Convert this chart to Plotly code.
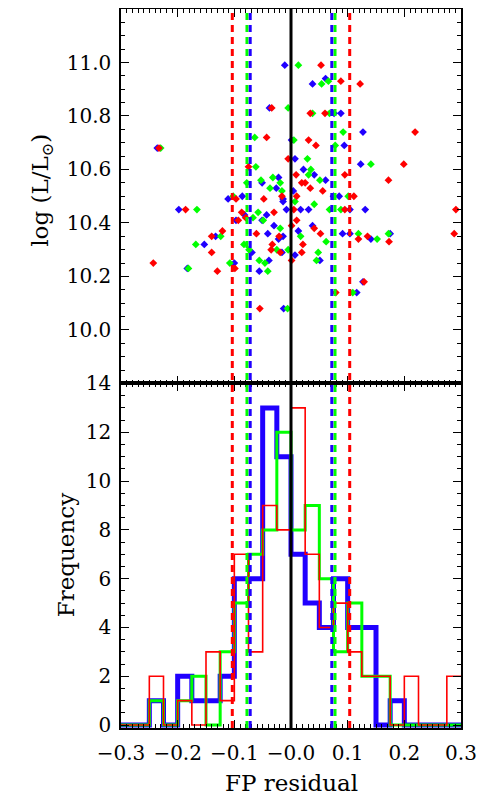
import plotly.graph_objects as go

# --- scatter: FP residual vs log luminosity, three samples ---
blue_x = [-0.011, -0.038, -0.236, -0.051, -0.022, -0.026, -0.086, -0.111, -0.014, 0.038,
          0.061, 0.076, 0.088, 0.127, 0.001, 0.094, 0.007, 0.123, 0.022, 0.041,
          0.061, 0.075, 0.085, -0.198, -0.082, -0.097, -0.051, -0.043, -0.133, -0.153,
          -0.183, -0.100, -0.069, -0.041, -0.039, -0.056, -0.030, -0.022, -0.013, 0.004,
          -0.014, 0.017, 0.031, 0.104, 0.131, 0.038, 0.013, 0.091, 0.104, 0.141,
          0.175, -0.014, 0.007, 0.051, 0.127, 0.116, -0.008, -0.016]
blue_y = [10.99, 10.83, 10.68, 10.55, 10.57, 10.53, 10.50, 10.49, 10.49, 10.92,
          10.94, 10.81, 10.81, 10.74, 10.71, 10.69, 10.64, 10.62, 10.60, 10.58,
          10.56, 10.50, 10.50, 10.45, 10.43, 10.41, 10.41, 10.43, 10.35, 10.32,
          10.23, 10.25, 10.29, 10.36, 10.26, 10.22, 10.39, 10.34, 10.08, 10.52,
          10.48, 10.45, 10.45, 10.45, 10.45, 10.39, 10.37, 10.36, 10.36, 10.34,
          10.36, 10.35, 10.28, 10.26, 10.18, 10.14, 10.45, 10.29]

green_x = [0.013, -0.005, -0.230, -0.064, -0.062, -0.053, -0.032, -0.037, -0.019, -0.016,
           -0.078, -0.102, 0.054, 0.066, 0.038, 0.068, 0.092, 0.005, 0.078, 0.029,
           0.141, 0.035, 0.031, 0.051, 0.101, -0.166, -0.067, -0.058, -0.049, -0.124,
           -0.168, -0.181, -0.108, -0.083, -0.074, -0.056, -0.046, -0.041, -0.019, -0.006,
           0.007, 0.041, 0.068, 0.088, 0.017, 0.119, 0.152, 0.172, 0.062, -0.005,
           0.048, 0.045, 0.109, -0.025]
green_y = [10.99, 10.83, 10.68, 10.72, 10.61, 10.56, 10.57, 10.53, 10.55, 10.52,
           10.55, 10.50, 10.92, 10.93, 10.81, 10.81, 10.74, 10.71, 10.69, 10.64,
           10.62, 10.60, 10.58, 10.56, 10.50, 10.45, 10.42, 10.44, 10.41, 10.35,
           10.32, 10.23, 10.25, 10.32, 10.30, 10.26, 10.25, 10.22, 10.38, 10.08,
           10.48, 10.47, 10.45, 10.45, 10.35, 10.36, 10.34, 10.36, 10.33, 10.30,
           10.29, 10.26, 10.14, 10.30]

red_x = [-0.034, -0.233, -0.043, -0.005, -0.075, -0.016, -0.097, -0.048, 0.053, 0.088,
         0.122, 0.034, 0.060, 0.219, 0.031, 0.044, 0.199, 0.009, 0.019, 0.025,
         0.095, 0.172, 0.034, 0.056, 0.111, 0.010, -0.186, -0.087, -0.080, -0.093,
         -0.030, -0.140, -0.121, -0.140, -0.243, -0.130, -0.099, -0.061, -0.021, -0.033,
         -0.035, -0.019, -0.055, 0.005, 0.095, 0.291, 0.010, 0.001, 0.041, 0.052,
         0.135, 0.119, 0.173, 0.288, 0.021, 0.019, 0.001, 0.129, 0.079]
red_y = [10.83, 10.68, 10.72, 10.64, 10.61, 10.50, 10.49, 10.49, 10.99, 10.93,
         10.92, 10.81, 10.81, 10.74, 10.71, 10.69, 10.62, 10.58, 10.55, 10.55,
         10.58, 10.56, 10.53, 10.52, 10.50, 10.50, 10.45, 10.44, 10.42, 10.41,
         10.44, 10.35, 10.37, 10.29, 10.25, 10.22, 10.23, 10.36, 10.35, 10.32,
         10.30, 10.29, 10.08, 10.45, 10.45, 10.45, 10.41, 10.39, 10.38, 10.36,
         10.35, 10.34, 10.33, 10.36, 10.32, 10.29, 10.26, 10.18, 10.14]

# --- histograms of FP residual (bins of 0.025 from -0.3 to 0.3) ---
bin_start = -0.3
bin_width = 0.025
blue_counts = [0, 0, 1, 0, 2, 1, 1, 2, 6, 6, 13, 11, 7, 5, 4, 6, 4, 4, 0, 1, 0, 0, 0, 0]
green_counts = [0, 0, 1, 0, 1, 2, 0, 3, 5, 7, 8, 12, 8, 9, 6, 3, 5, 2, 2, 0, 0, 0, 0, 0]
red_counts = [0, 0, 2, 0, 1, 0, 3, 1, 7, 3, 9, 8, 13, 7, 4, 5, 3, 2, 2, 0, 2, 0, 0, 2]

# --- vertical reference lines (scatter cuts) ---
zero_line = 0.0
blue_cut = 0.072
green_cut = 0.0777
red_cut = 0.1036

x_ticks = [-0.3, -0.2, -0.1, 0.0, 0.1, 0.2, 0.3]
x_ticktext = ["\u22120.3", "\u22120.2", "\u22120.1", "\u22120.0", "0.1", "0.2", "0.3"]
lum_ticks = [10.0, 10.2, 10.4, 10.6, 10.8, 11.0]
freq_ticks = [0, 2, 4, 6, 8, 10, 12, 14]

BLUE = "#2000ff"
GREEN = "#00ff00"
RED = "#ff0000"
FONT = "DejaVu Serif"

fig = go.Figure()

for xs, ys, col in [(blue_x, blue_y, BLUE), (green_x, green_y, GREEN), (red_x, red_y, RED)]:
    fig.add_trace(go.Scatter(x=xs, y=ys, mode="markers", xaxis="x", yaxis="y",
                             marker=dict(symbol="diamond", size=6, color=col, line_width=0),
                             showlegend=False))


def step_xy(counts):
    edges = [bin_start + i * bin_width for i in range(len(counts) + 1)]
    return edges, list(counts) + [counts[-1]]


for counts, col, w in [(blue_counts, BLUE, 5), (green_counts, GREEN, 3), (red_counts, RED, 1.6)]:
    ex, ey = step_xy(counts)
    fig.add_trace(go.Scatter(x=ex, y=ey, mode="lines", line_shape="hv", xaxis="x2", yaxis="y2",
                             line=dict(color=col, width=w), showlegend=False))

shapes = []
for cut, col in [(red_cut, RED), (green_cut, GREEN), (blue_cut, BLUE)]:
    for xv in (-cut, cut):
        shapes.append(dict(type="line", xref="x", yref="paper", x0=xv, x1=xv, y0=0, y1=1,
                           line=dict(color=col, width=3, dash="7px,5px")))
shapes.append(dict(type="line", xref="x", yref="paper", x0=zero_line, x1=zero_line, y0=0, y1=1,
                   line=dict(color="black", width=3)))

# page body adds an 8px offset, so the figure is sized to end at the window edge
split = 345 / 720
axis_common = dict(showline=True, linecolor="black", linewidth=1.5, mirror="allticks",
                   ticks="inside", tickcolor="black", showgrid=False, zeroline=False,
                   automargin=False,
                   tickfont=dict(family=FONT, size=20, color="black"))
title_font = dict(family=FONT, size=23, color="black")

fig.update_layout(
    width=477, height=800,
    margin=dict(l=113, r=24, t=1, b=80, autoexpand=False),
    paper_bgcolor="white", plot_bgcolor="white",
    shapes=shapes,
    xaxis=dict(axis_common, domain=[0, 1], anchor="y", range=[-0.3, 0.3],
               tickvals=x_ticks, ticktext=x_ticktext, showticklabels=False, ticklen=8,
               minor=dict(ticks="inside", dtick=0.01, ticklen=4, tickcolor="black")),
    yaxis=dict(axis_common, domain=[split, 1], anchor="x", range=[9.8, 11.2],
               tickvals=lum_ticks, tickformat=".1f", ticklen=8, ticklabelstandoff=4,
               minor=dict(ticks="inside", dtick=0.05, tick0=10.0, ticklen=4, tickcolor="black")),
    xaxis2=dict(axis_common, domain=[0, 1], anchor="y2", range=[-0.3, 0.3],
                tickvals=x_ticks, ticktext=x_ticktext, ticklen=8, ticklabelstandoff=6,
                minor=dict(ticks="inside", dtick=0.01, ticklen=4, tickcolor="black")),
    yaxis2=dict(axis_common, domain=[0, split], anchor="x2", range=[-0.12, 14],
                tickvals=freq_ticks, ticklen=8, ticklabelstandoff=4,
                minor=dict(ticks="inside", dtick=0.5, tick0=0, ticklen=4, tickcolor="black")),
    annotations=[
        dict(text="log (L/L<sub>\u2299</sub>)", xref="paper", yref="paper",
             x=(42 - 121) / 340, y=1 - (190 - 8) / 720, textangle=-90, showarrow=False,
             xanchor="center", yanchor="middle", font=title_font),
        dict(text="Frequency", xref="paper", yref="paper",
             x=(66 - 121) / 340, y=1 - (555 - 8) / 720, textangle=-90, showarrow=False,
             xanchor="center", yanchor="middle", font=title_font),
        dict(text="FP residual", xref="paper", yref="paper",
             x=0.5, y=1 - (783 - 8) / 720, showarrow=False,
             xanchor="center", yanchor="middle", font=title_font),
    ],
)

fig.write_html("out.html")
